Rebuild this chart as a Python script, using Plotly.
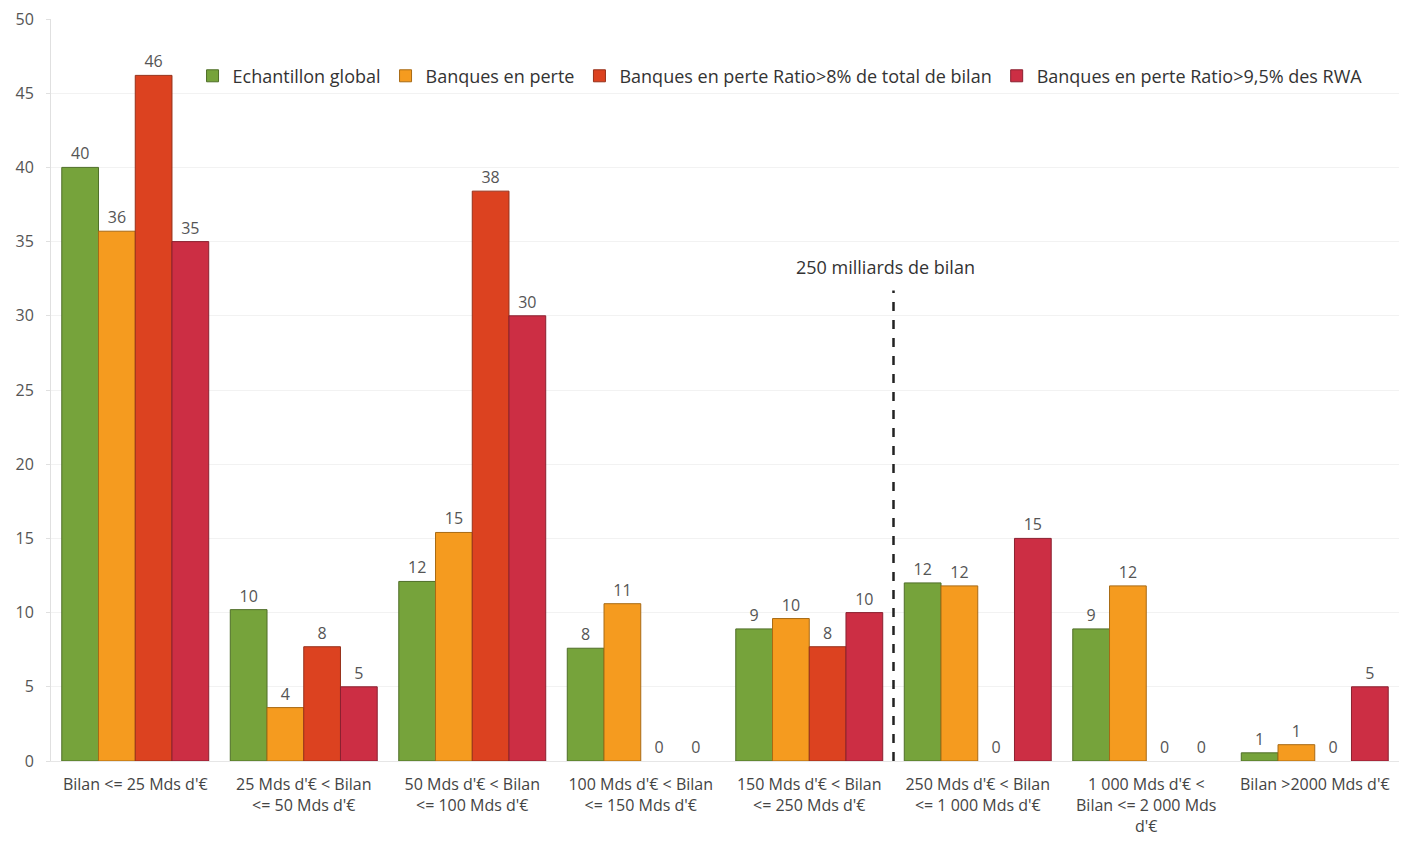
import plotly.graph_objects as go

categories = [
    "Bilan &lt;= 25 Mds d'€",
    "25 Mds d'€ &lt; Bilan<br>&lt;= 50 Mds d'€",
    "50 Mds d'€ &lt; Bilan<br>&lt;= 100 Mds d'€",
    "100 Mds d'€ &lt; Bilan<br>&lt;= 150 Mds d'€",
    "150 Mds d'€ &lt; Bilan<br>&lt;= 250 Mds d'€",
    "250 Mds d'€ &lt; Bilan<br>&lt;= 1 000 Mds d'€",
    "1 000 Mds d'€ &lt;<br>Bilan &lt;= 2 000 Mds<br>d'€",
    "Bilan &gt;2000 Mds d'€",
]

series_names = [
    "Echantillon global",
    "Banques en perte",
    "Banques en perte Ratio&gt;8% de total de bilan",
    "Banques en perte Ratio&gt;9,5% des RWA",
]

echantillon_global = [40.0, 10.2, 12.1, 7.6, 8.9, 12.0, 8.9, 0.55]
banques_en_perte = [35.7, 3.6, 15.4, 10.6, 9.6, 11.8, 11.8, 1.1]
ratio_8_bilan = [46.2, 7.7, 38.4, 0, 7.7, 0, 0, 0]
ratio_95_rwa = [35.0, 5.0, 30.0, 0, 10.0, 15.0, 0, 5.0]

colors = ["#76A33B", "#F59B1F", "#DC4220", "#CC2E44"]
line_colors = ["#4f6e28", "#a86a14", "#96301a", "#8a2030"]

FONT = "Open Sans, sans-serif"

fig = go.Figure()
for name, vals, c, lc in zip(series_names,
                             [echantillon_global, banques_en_perte, ratio_8_bilan, ratio_95_rwa],
                             colors, line_colors):
    fig.add_trace(go.Bar(
        x=categories, y=vals, name=name,
        marker=dict(color=c, line=dict(color=lc, width=[1 if v > 0 else 0 for v in vals])),
        texttemplate="%{y:.0f}", textposition="outside",
        textfont=dict(size=16, color="#555555", family=FONT),
        cliponaxis=False,
    ))

fig.add_shape(type="line", xref="x", yref="y", x0=4.5, x1=4.5, y0=0, y1=31.7,
              line=dict(color="#222222", width=2.5, dash="dash"))
fig.add_annotation(x=4.45, y=33.3, xref="x", yref="y", text="250 milliards de bilan",
                   showarrow=False, font=dict(size=18, color="#333333", family=FONT))

fig.update_layout(
    width=1401, height=843,
    margin=dict(l=51, r=2, t=19, b=82),
    paper_bgcolor="white", plot_bgcolor="white",
    barmode="group", bargap=0.128, bargroupgap=0,
    font=dict(family=FONT, size=16, color="#444444"),
    showlegend=True,
    legend=dict(orientation="h", x=0.105, y=0.948, xanchor="left", yanchor="top",
                font=dict(size=18, color="#333333", family=FONT), bgcolor="rgba(0,0,0,0)",
                itemwidth=30, tracegroupgap=0),
    yaxis=dict(range=[0, 50], dtick=5, showgrid=True, gridcolor="#f2f2f2",
               showline=True, linecolor="#e0e0e0", zeroline=False,
               ticks="outside", ticklen=4, tickcolor="#e0e0e0",
               ticklabelstandoff=9,
               tickfont=dict(size=16, color="#555555", family=FONT)),
    xaxis=dict(showline=True, linecolor="#e6e6e6", tickangle=0,
               ticklabelstandoff=9,
               tickfont=dict(size=16, color="#444444", family=FONT)),
)

fig.write_html("out.html")
